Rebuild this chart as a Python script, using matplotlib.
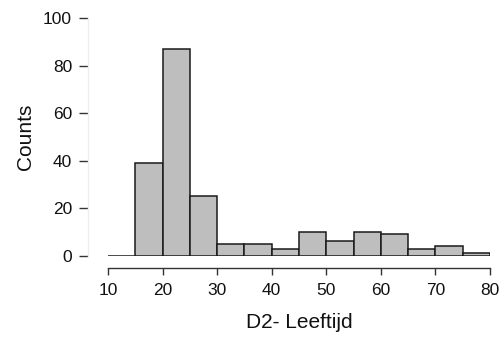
import matplotlib
matplotlib.use("Agg")
import matplotlib.pyplot as plt
import numpy as np

bin_edges = [10, 15, 20, 25, 30, 35, 40, 45, 50, 55, 60, 65, 70, 75, 80]
counts = [0, 39, 87, 25, 5, 5, 3, 10, 6, 10, 9, 3, 4, 1]
x_ticks = [10, 20, 30, 40, 50, 60, 70, 80]
y_ticks = [0, 20, 40, 60, 80, 100]
x_label = "D2- Leeftijd"
y_label = "Counts"

plt.rcParams['font.family'] = ['Liberation Sans', 'DejaVu Sans']

fig = plt.figure(figsize=(4.99, 3.38), dpi=100)
ax = fig.add_axes([108/499, (338-255.7)/338, 382/499, (255.7-18)/338])

lefts = np.array(bin_edges[:-1])
widths = np.diff(bin_edges)
ax.bar(lefts, counts, width=widths, align='edge', color='#bebebe',
       edgecolor='#1a1a1a', linewidth=1.1, zorder=3)

ax.set_xlim(10, 80)
ax.set_ylim(0, 100)
ax.set_xticks(x_ticks)
ax.set_yticks(y_ticks)

for s in ['top', 'right']:
    ax.spines[s].set_visible(False)
ax.spines['bottom'].set_position(('outward', 8.6))
ax.spines['left'].set_position(('outward', 14.4))
ax.spines['bottom'].set_color('#333333')
ax.spines['bottom'].set_linewidth(1.0)
ax.spines['left'].set_color('#eeeeee')
ax.spines['left'].set_linewidth(1.0)

ax.tick_params(axis='x', length=5, width=1.0, color='#333333', pad=6,
               labelsize=12.5, labelcolor='#111111')
ax.tick_params(axis='y', length=6.5, width=1.0, color='#333333', pad=5,
               labelsize=12.5, labelcolor='#111111')

ax.set_xlabel(x_label, fontsize=15, labelpad=11, color='#111111')
ax.set_ylabel(y_label, fontsize=15, labelpad=6, color='#111111')

fig.savefig("out.png", dpi=100)
